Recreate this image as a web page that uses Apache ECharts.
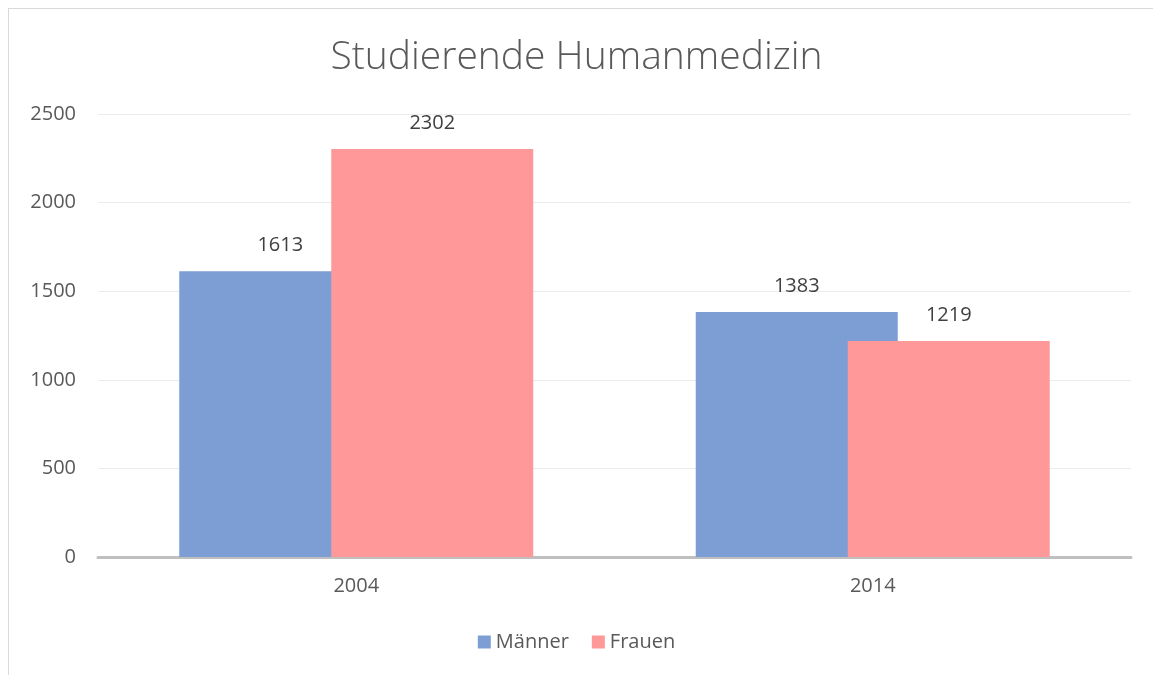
<!DOCTYPE html>
<html lang="de">
<head>
    <meta charset="UTF-8">
    <title>Studierende Humanmedizin</title>
    <script src="https://cdn.jsdelivr.net/npm/echarts@6/dist/echarts.min.js"></script>
    <style>
        body{ margin:0; background:#fff; }
        .frame{
            position:absolute; left:8px; top:8px; width:1200px; height:700px;
            border-left:1px solid #d9d9d9; border-top:1px solid #d9d9d9;
        }
        #chart{ position:absolute; left:0; top:0; width:1153px; height:675px; }
    </style>
</head>
<body>
    <div class="frame"></div>
    <div id="chart"></div>
<script>
    // Daten
    var jahre = ['2004', '2014'];
    var maenner = [1613, 1383];
    var frauen = [2302, 1219];

    var txt = '#595959';
    var font = 'Open Sans';

    var option = {
        animation: false,
        title: {
            text: 'Studierende Humanmedizin',
            left: 'center',
            top: 33,
            textStyle: { fontFamily: font, fontWeight: 300, fontSize: 39, color: txt }
        },
        legend: {
            bottom: 18,
            left: 'center',
            itemWidth: 13,
            itemHeight: 13,
            itemGap: 23,
            icon: 'rect',
            textStyle: { fontFamily: font, fontSize: 20, color: txt }
        },
        grid: { left: 98, right: 22, top: 114, bottom: 118 },
        xAxis: {
            type: 'category',
            data: jahre,
            axisTick: { show: false },
            axisLine: { lineStyle: { color: '#bfbfbf', width: 3 } },
            axisLabel: { fontFamily: font, fontSize: 20, color: txt, margin: 19 }
        },
        yAxis: {
            type: 'value',
            min: 0,
            max: 2500,
            interval: 500,
            axisLine: { show: false },
            axisTick: { show: false },
            axisLabel: {
                fontFamily: font, fontSize: 20, color: txt, margin: 22,
                formatter: function (v) { return String(v); }
            },
            splitLine: { lineStyle: { color: '#ebebeb', width: 1 } }
        },
        series: [{
            name: 'Männer',
            type: 'bar',
            data: maenner,
            barWidth: 202,
            barGap: '-24.75%',
            itemStyle: { color: '#7d9ed5' },
            label: {
                show: true, position: 'top', distance: 16,
                fontFamily: font, fontSize: 20, color: '#404040'
            }
        }, {
            name: 'Frauen',
            type: 'bar',
            data: frauen,
            barWidth: 202,
            itemStyle: { color: '#ff9999' },
            label: {
                show: true, position: 'top', distance: 16,
                fontFamily: font, fontSize: 20, color: '#404040'
            }
        }]
    };

    var myChart = echarts.init(document.getElementById('chart'));
    myChart.setOption(option);
</script>
</body>
</html>
